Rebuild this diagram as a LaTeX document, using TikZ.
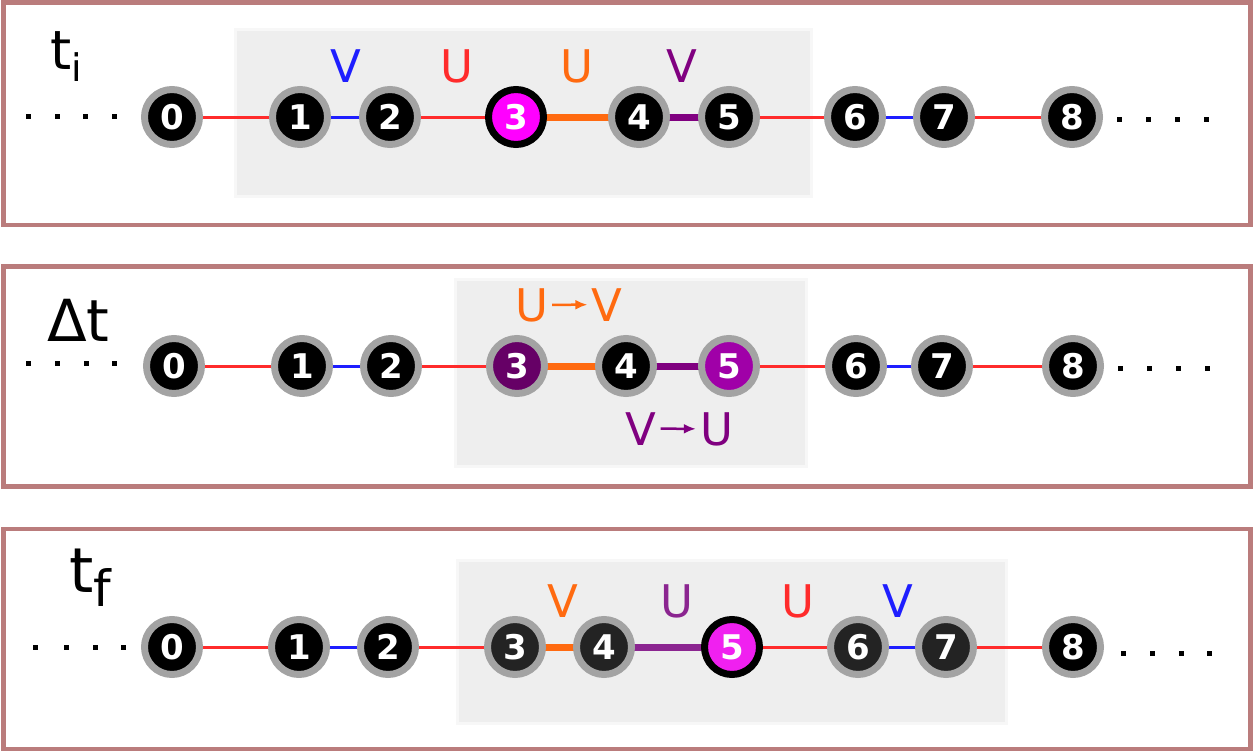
\documentclass[tikz,border=0pt]{standalone}
\usepackage{fontspec}
\setmainfont{DejaVu Sans}
\usetikzlibrary{arrows.meta}
\definecolor{frame}{HTML}{BA7C7C}
\definecolor{ring}{HTML}{A3A3A3}
\definecolor{boxgray}{HTML}{EEEEEE}
\definecolor{eRed}{HTML}{FF2B2B}
\definecolor{eBlue}{HTML}{1E1EFF}
\definecolor{eOrange}{HTML}{FF6A10}
\definecolor{ePurple}{HTML}{800080}
\definecolor{ePurpleB}{HTML}{8B2590}
\definecolor{nMag}{HTML}{FF00FF}
\definecolor{nMagB}{HTML}{F020F0}
\definecolor{nDarkPurple}{HTML}{660066}
\definecolor{nPurple}{HTML}{A000A8}
\definecolor{nDark}{HTML}{232323}
\pgfdeclarelayer{boxes}
\pgfdeclarelayer{edges}
\pgfsetlayers{boxes,edges,main}
\tikzset{
  vtx/.style={circle, minimum size=55pt, inner sep=0pt, line width=7pt, draw=ring, fill=black,
    text=white, font=\fontsize{34}{34}\selectfont\bfseries},
  hot/.style={draw=black},
  panel/.style={draw=frame, line width=4.5pt},
  graybox/.style={fill=boxgray, draw=black!3, line width=3pt},
  thinE/.style={line width=3pt},
  thickE/.style={line width=7pt},
  elab/.style={inner sep=0pt, font=\fontsize{45}{45}\selectfont},
  arrlab/.style={inner ysep=0pt, inner xsep=4pt, font=\fontsize{45}{45}\selectfont},
  smallarr/.style={line width=2.5pt, -{Latex[length=12pt,width=10pt]}},
  ttl/.style={inner sep=0pt, anchor=base west},
}
\newcommand{\dotrow}[2]{\fill (#1-2.5,#2-2.5) rectangle (#1+2.5,#2+2.5);}
\begin{document}
\begin{tikzpicture}[x=1pt,y=-1pt]
\useasboundingbox (0,0) rectangle (1254,752);
% frames
\draw[panel] (3.5,2.5) rectangle (1250.5,225);
\draw[panel] (3.5,266.5) rectangle (1250.5,486.5);
\draw[panel] (3.5,529) rectangle (1250.5,749);
\begin{pgfonlayer}{boxes}
\fill[graybox] (235,30) rectangle (811,196);
\fill[graybox] (455,279) rectangle (806,466);
\fill[graybox] (457,560) rectangle (1006,723);
\end{pgfonlayer}
% titles
\node[ttl, font=\fontsize{54}{54}\selectfont] (ti) at (50,70) {t\raisebox{-12pt}{\fontsize{38}{38}\selectfont i}};
\node[ttl, font=\fontsize{58}{58}\selectfont] (dt) at (47,341) {Δt};
\node[ttl, font=\fontsize{62}{62}\selectfont] (tf) at (69,592) {t\raisebox{-14pt}{\fontsize{50}{50}\selectfont f}};
% dots
\foreach \x in {28,57,85,114} {\dotrow{\x}{116}}
\foreach \x in {1119,1148,1177,1206} {\dotrow{\x}{119}}
\foreach \x in {28,57,86,114} {\dotrow{\x}{363}}
\foreach \x in {1120,1149,1178,1207} {\dotrow{\x}{368}}
\foreach \x in {35,66,95,123} {\dotrow{\x}{647}}
\foreach \x in {1123,1152,1181,1209} {\dotrow{\x}{653}}
% panel 1
\node[vtx] (a0) at (172,117) {0};
\node[vtx] (a1) at (300,117) {1};
\node[vtx] (a2) at (390,117) {2};
\node[vtx, hot, fill=nMag] (a3) at (516,117) {3};
\node[vtx] (a4) at (639,117) {4};
\node[vtx] (a5) at (729,117) {5};
\node[vtx] (a6) at (855,117) {6};
\node[vtx] (a7) at (944,117) {7};
\node[vtx] (a8) at (1072,117) {8};
\node[elab, anchor=base, text=eBlue] (la1) at (346,82) {V};
\node[elab, anchor=base, text=eRed] (la2) at (457,83) {U};
\node[elab, anchor=base, text=eOrange] (la3) at (577,83) {U};
\node[elab, anchor=base, text=ePurple] (la4) at (682,82) {V};
% panel 2
\node[vtx] (b0) at (174,366) {0};
\node[vtx] (b1) at (302,366) {1};
\node[vtx] (b2) at (391,366) {2};
\node[vtx, fill=nDarkPurple] (b3) at (517,366) {3};
\node[vtx] (b4) at (626,366) {4};
\node[vtx, fill=nPurple] (b5) at (729,366) {5};
\node[vtx] (b6) at (856,366) {6};
\node[vtx] (b7) at (942,366) {7};
\node[vtx] (b8) at (1073,366) {8};
\node[arrlab, anchor=base, text=eOrange] (u1) at (531.5,321) {U};
\node[arrlab, anchor=base, text=eOrange] (v1) at (607,321) {V};
\draw[smallarr, eOrange] (u1) -- (v1);
\node[arrlab, anchor=base, text=ePurple] (v2) at (641,445) {V};
\node[arrlab, anchor=base, text=ePurple] (u2) at (716.5,445) {U};
\draw[smallarr, ePurple] (v2) -- (u2);
% panel 3
\node[vtx] (c0) at (172,647) {0};
\node[vtx] (c1) at (299,647) {1};
\node[vtx] (c2) at (388,647) {2};
\node[vtx, fill=nDark] (c3) at (515,647) {3};
\node[vtx, fill=nDark] (c4) at (604,647) {4};
\node[vtx, hot, fill=nMagB] (c5) at (732,647) {5};
\node[vtx, fill=nDark] (c6) at (858,647) {6};
\node[vtx, fill=nDark] (c7) at (946,647) {7};
\node[vtx] (c8) at (1073,647) {8};
\node[elab, anchor=base, text=eOrange] (lc1) at (563,617) {V};
\node[elab, anchor=base, text=ePurpleB] (lc2) at (677,617) {U};
\node[elab, anchor=base, text=eRed] (lc3) at (798,617) {U};
\node[elab, anchor=base, text=eBlue] (lc4) at (898,617) {V};
% edges
\begin{pgfonlayer}{edges}
\foreach \p in {a,b,c} {
  \draw[thinE, eRed] (\p0.center) -- (\p1.center);
  \draw[thinE, eBlue] (\p1.center) -- (\p2.center);
  \draw[thinE, eRed] (\p2.center) -- (\p3.center);
  \draw[thickE, eOrange] (\p3.center) -- (\p4.center);
  \draw[thinE, eRed] (\p5.center) -- (\p6.center);
  \draw[thinE, eBlue] (\p6.center) -- (\p7.center);
  \draw[thinE, eRed] (\p7.center) -- (\p8.center);
}
\draw[thickE, ePurple] (a4.center) -- (a5.center);
\draw[thickE, ePurple] (b4.center) -- (b5.center);
\draw[thickE, ePurpleB] (c4.center) -- (c5.center);
\end{pgfonlayer}
\end{tikzpicture}
\end{document}
